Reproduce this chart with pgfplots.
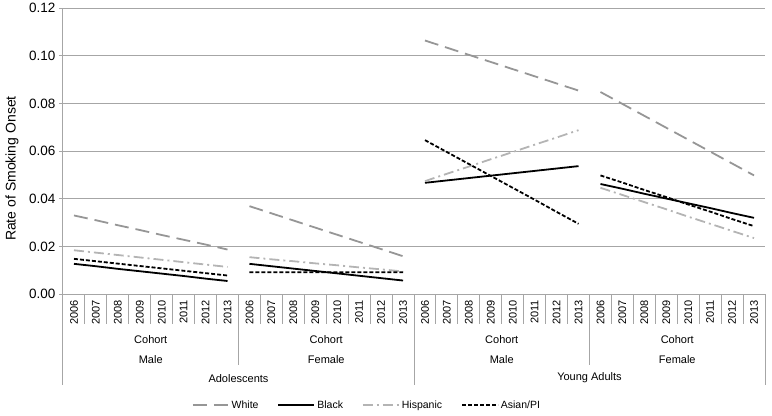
\documentclass[border=0pt]{standalone}
\usepackage{fontspec}
\setmainfont{Liberation Sans}
\usepackage{pgfplots}
\pgfplotsset{compat=1.18}
\usepackage{pgfplotstable}
\usetikzlibrary{calc}
\definecolor{gridc}{HTML}{A6A6A6}
\definecolor{whitec}{HTML}{969696}
\definecolor{hispc}{HTML}{B4B4B4}

\pgfplotstableread{
x    white  black  hisp   asian
0.5  0.0330 0.0127 0.0184 0.0148
1.5  0.0310 0.0117 0.0174 0.0138
2.5  0.0289 0.0106 0.0164 0.0128
3.5  0.0269 0.0096 0.0154 0.0118
4.5  0.0248 0.0086 0.0144 0.0108
5.5  0.0228 0.0076 0.0134 0.0098
6.5  0.0208 0.0065 0.0124 0.0088
7.5  0.0187 0.0055 0.0114 0.0078
8    nan    nan    nan    nan
8.5  0.0369 0.0127 0.0155 0.0092
9.5  0.0339 0.0117 0.0146 0.0092
10.5 0.0309 0.0107 0.0138 0.0092
11.5 0.0279 0.0097 0.0129 0.0092
12.5 0.0249 0.0087 0.0121 0.0092
13.5 0.0219 0.0077 0.0112 0.0092
14.5 0.0189 0.0067 0.0104 0.0092
15.5 0.0159 0.0057 0.0095 0.0092
16   nan    nan    nan    nan
16.5 0.1064 0.0467 0.0474 0.0646
17.5 0.1034 0.0477 0.0505 0.0596
18.5 0.1004 0.0487 0.0535 0.0546
19.5 0.0974 0.0497 0.0566 0.0496
20.5 0.0944 0.0507 0.0596 0.0446
21.5 0.0914 0.0517 0.0627 0.0396
22.5 0.0884 0.0527 0.0657 0.0345
23.5 0.0854 0.0537 0.0688 0.0295
24   nan    nan    nan    nan
24.5 0.0848 0.0462 0.0446 0.0498
25.5 0.0798 0.0442 0.0416 0.0468
26.5 0.0748 0.0421 0.0386 0.0437
27.5 0.0698 0.0401 0.0356 0.0407
28.5 0.0648 0.0381 0.0325 0.0376
29.5 0.0598 0.0361 0.0295 0.0346
30.5 0.0548 0.0340 0.0265 0.0315
31.5 0.0498 0.0320 0.0235 0.0285
}\data

\begin{document}
\begin{tikzpicture}
\begin{axis}[
  scale only axis, width=702pt, height=286pt,
  xmin=0, xmax=32, ymin=0, ymax=0.12,
  axis x line*=bottom, axis y line*=left,
  axis line style={-, gridc, line width=1pt},
  xtick=\empty,
  ytick={0,0.02,0.04,0.06,0.08,0.10,0.12},
  scaled y ticks=false,
  /pgf/number format/assume math mode=true,
  yticklabel style={/pgf/number format/fixed, /pgf/number format/precision=2,
    /pgf/number format/fixed zerofill, font=\fontsize{13.5}{15}\selectfont},
  ymajorgrids, grid style={gridc, line width=1pt},
  tick align=outside, major tick length=4pt,
  ytick style={gridc, line width=1pt},
  clip=false, unbounded coords=jump,
  legend style={at={(axis description cs:0.433,-0.388)}, anchor=center, draw=none,
    legend columns=4, font=\fontsize{10.5}{12}\selectfont,
    /tikz/every even column/.append style={column sep=17pt}},
  legend image code/.code={\draw[#1] (0pt,0pt) -- (36pt,0pt);},
]
\addplot[whitec, line width=1.8pt, dash pattern=on 14pt off 7pt] table[x=x,y=white]{\data};
\addlegendentry{White}
\addplot[black, line width=1.8pt] table[x=x,y=black]{\data};
\addlegendentry{Black}
\addplot[hispc, line width=1.8pt, dash pattern=on 10pt off 4pt on 2pt off 4pt] table[x=x,y=hisp]{\data};
\addlegendentry{Hispanic}
\addplot[black, line width=1.8pt, dash pattern=on 4pt off 2pt] table[x=x,y=asian]{\data};
\addlegendentry{Asian/PI}

\pgfplotsextra{
  \foreach \i in {1,...,31} {\draw[gridc, line width=1pt] (axis cs:\i,0) -- ++(0,-30pt);}
  \foreach \i in {8,24} {\draw[gridc, line width=1pt] (axis cs:\i,0) -- ++(0,-71pt);}
  \foreach \i in {0,16,32} {\draw[gridc, line width=1pt] (axis cs:\i,0) -- ++(0,-91pt);}
  \foreach \i in {0,...,31} {
    \pgfmathsetmacro\xc{\i+0.5}
    \pgfmathtruncatemacro\yr{2006+mod(\i,8)}
    \node[rotate=90, font=\fontsize{11}{12}\selectfont, inner sep=0pt] at ($(axis cs:\xc,0)+(0,-18pt)$) {\yr};
  }
  \foreach \c/\s in {4/Male,12/Female,20/Male,28/Female} {
    \node[font=\fontsize{11}{12}\selectfont, inner sep=0pt] at ($(axis cs:\c,0)+(0,-45pt)$) {Cohort};
    \node[font=\fontsize{11}{12}\selectfont, inner sep=0pt] at ($(axis cs:\c,0)+(0,-65pt)$) {\s};
  }
  \node[font=\fontsize{11}{12}\selectfont, inner sep=0pt] at ($(axis cs:8,0)+(0,-84pt)$) {Adolescents};
  \node[font=\fontsize{11}{12}\selectfont, inner sep=0pt] at ($(axis cs:24,0)+(0,-84pt)$) {Young Adults};
  \node[rotate=90, font=\fontsize{14}{16}\selectfont, inner sep=0pt] at ($(rel axis cs:0,0.439)+(-51pt,0)$) {Rate of Smoking Onset};
  \path ($(rel axis cs:0,0)+(-63pt,-121pt)$) rectangle ($(rel axis cs:1,1)+(7pt,7pt)$);
}
\end{axis}
\end{tikzpicture}
\end{document}
